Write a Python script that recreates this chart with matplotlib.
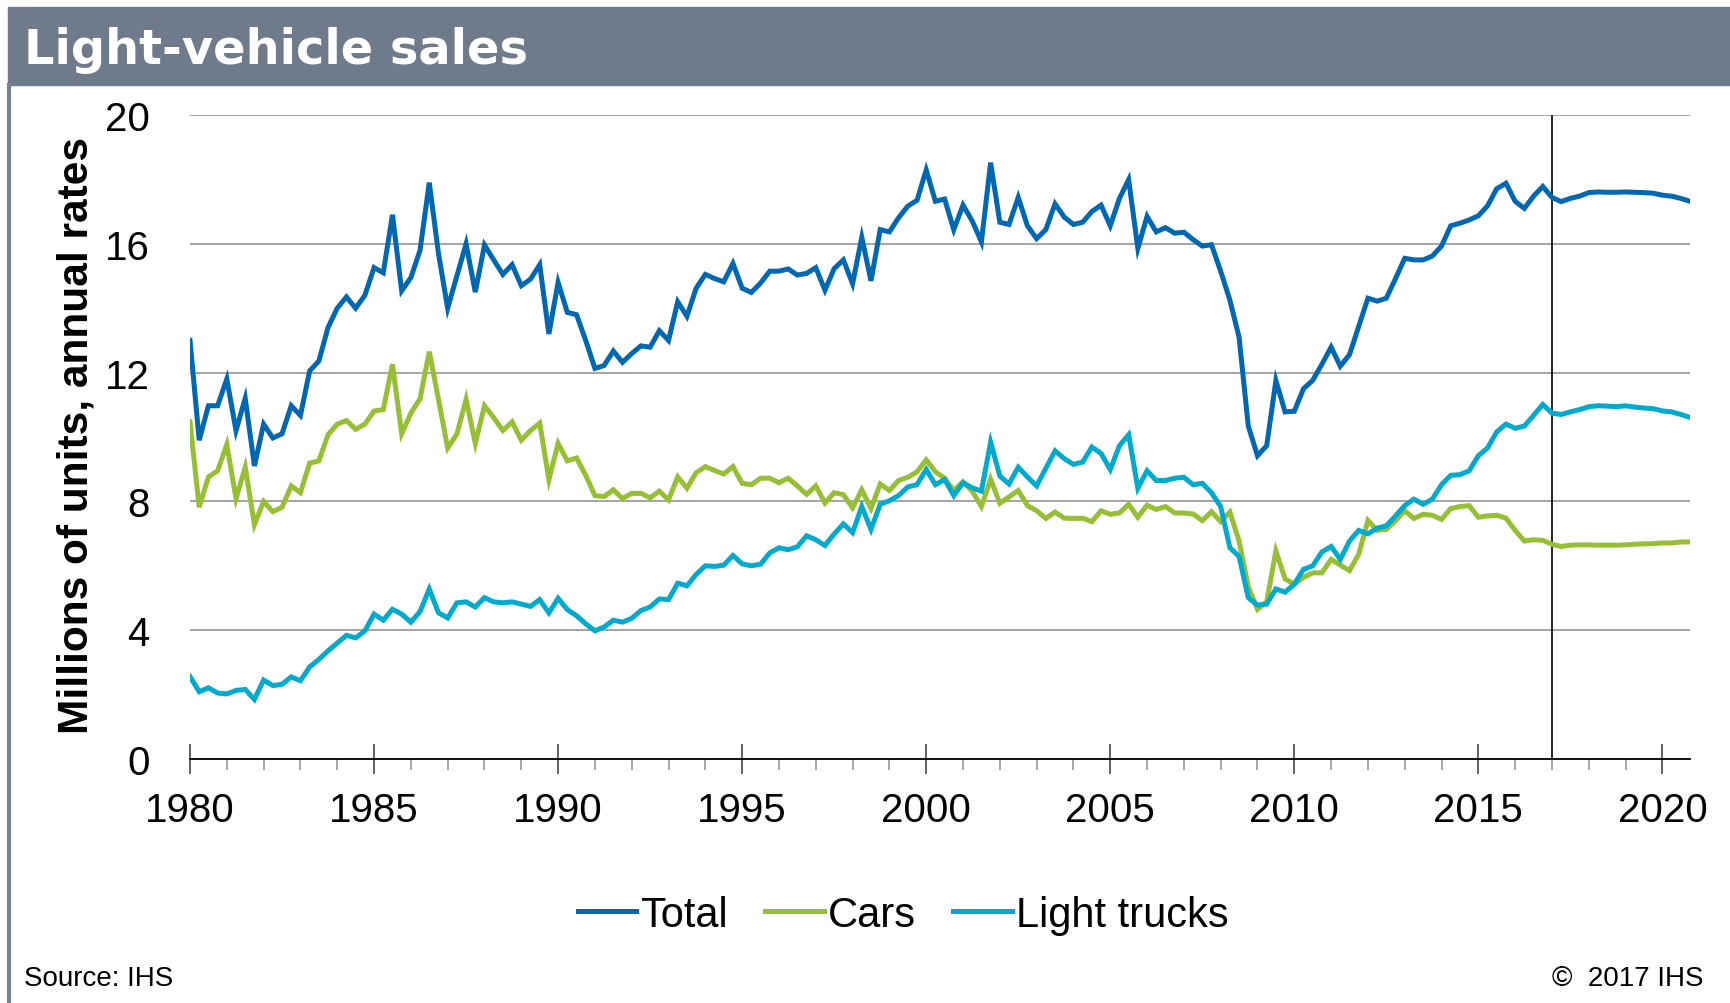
import numpy as np
import pandas as pd
from matplotlib import pyplot as plt
from matplotlib.patches import Rectangle
from matplotlib.lines import Line2D
from matplotlib.ticker import MultipleLocator

# quarterly, 1980Q1 .. 2020Q4 (millions of units, annual rates)
total = [
    13.0, 9.9, 10.97, 10.97, 11.8, 10.2, 11.2, 9.1, 10.4, 9.97, 10.1, 10.97,
    10.67, 12.05, 12.36, 13.4, 14.0, 14.35, 14.0, 14.4, 15.26, 15.1, 16.9, 14.54,
    14.95, 15.8, 17.9, 15.7, 14.0, 15.0, 16.0, 14.5, 15.96, 15.5, 15.05, 15.35,
    14.7, 14.9, 15.35, 13.2, 14.8, 13.87,
    13.8, 13.0, 12.13, 12.22, 12.67, 12.32, 12.59, 12.83, 12.79, 13.3, 13.0, 14.2,
    13.75, 14.62, 15.05, 14.92, 14.82, 15.39, 14.62, 14.49, 14.78, 15.15, 15.15, 15.22,
    15.03, 15.08, 15.26, 14.56, 15.23, 15.5, 14.76, 16.2, 14.85, 16.44, 16.37, 16.81,
    17.17, 17.35,
    18.29, 17.32, 17.39, 16.44, 17.2, 16.71, 16.06, 18.52, 16.67, 16.6, 17.44, 16.56,
    16.16, 16.44, 17.24, 16.83, 16.6, 16.67, 17.0, 17.2, 16.56, 17.41, 17.99, 15.86,
    16.85, 16.37, 16.5, 16.33, 16.36, 16.13, 15.93, 15.97, 15.15, 14.25, 13.1, 10.34,
    9.42, 9.73, 11.75, 10.78,
    10.8, 11.5, 11.76, 12.26, 12.79, 12.2, 12.56, 13.44, 14.31, 14.22, 14.31, 14.92,
    15.55, 15.5, 15.5, 15.62, 15.93, 16.56, 16.64, 16.74, 16.87, 17.18, 17.71, 17.88,
    17.32, 17.1, 17.48, 17.78, 17.44, 17.31, 17.41, 17.48, 17.59, 17.61, 17.6, 17.6,
    17.61, 17.6, 17.59, 17.57, 17.51, 17.48, 17.41, 17.32,
]
cars = [
    10.47, 7.82, 8.76, 8.95, 9.77, 8.09, 9.06, 7.28, 8.0, 7.68, 7.82, 8.48,
    8.27, 9.19, 9.26, 10.07, 10.4, 10.51, 10.24, 10.4, 10.81, 10.85, 12.26, 10.1,
    10.74, 11.19, 12.65, 11.17, 9.66, 10.09, 11.17, 9.8, 10.97, 10.6, 10.2, 10.47,
    9.9, 10.2, 10.43, 8.68, 9.8, 9.26,
    9.35, 8.81, 8.18, 8.15, 8.36, 8.09, 8.25, 8.25, 8.11, 8.32, 8.05, 8.76,
    8.41, 8.89, 9.08, 8.96, 8.85, 9.08, 8.56, 8.52, 8.72, 8.72, 8.58, 8.72,
    8.48, 8.22, 8.48, 7.95, 8.27, 8.21, 7.8, 8.36, 7.78, 8.54, 8.34, 8.65,
    8.75, 8.92,
    9.29, 8.92, 8.72, 8.34, 8.61, 8.32, 7.84, 8.69, 7.94, 8.14, 8.34, 7.87,
    7.71, 7.47, 7.67, 7.48, 7.47, 7.48, 7.37, 7.71, 7.6, 7.64, 7.91, 7.51,
    7.88, 7.75, 7.84, 7.64, 7.64, 7.61, 7.4, 7.68, 7.37, 7.67, 6.77, 5.35,
    4.65, 4.88, 6.46, 5.59,
    5.43, 5.64, 5.78, 5.78, 6.2, 6.02, 5.85, 6.36, 7.41, 7.1, 7.13, 7.4,
    7.71, 7.47, 7.6, 7.57, 7.44, 7.78, 7.84, 7.87, 7.51, 7.55, 7.57, 7.48,
    7.1, 6.77, 6.81, 6.79, 6.67, 6.6, 6.64, 6.65, 6.65, 6.64, 6.64, 6.64,
    6.65, 6.67, 6.68, 6.69, 6.71, 6.71, 6.74, 6.74,
]
trucks = [
    2.56, 2.09, 2.21, 2.05, 2.02, 2.13, 2.16, 1.85, 2.45, 2.28, 2.32, 2.55,
    2.43, 2.86, 3.09, 3.36, 3.6, 3.84, 3.76, 3.98, 4.5, 4.31, 4.65, 4.5,
    4.25, 4.58, 5.28, 4.54, 4.38, 4.85, 4.88, 4.72, 5.01, 4.88, 4.85, 4.88,
    4.81, 4.74, 4.95, 4.54, 4.99, 4.64,
    4.45, 4.2, 3.98, 4.1, 4.31, 4.25, 4.37, 4.61, 4.72, 4.97, 4.95, 5.46,
    5.38, 5.73, 6.0, 5.98, 6.02, 6.32, 6.06, 6.0, 6.05, 6.4, 6.56, 6.5,
    6.59, 6.93, 6.81, 6.63, 6.99, 7.3, 7.03, 7.84, 7.13, 7.91, 8.02, 8.18,
    8.45, 8.52,
    8.99, 8.52, 8.68, 8.18, 8.58, 8.42, 8.32, 9.84, 8.79, 8.54, 9.06, 8.76,
    8.48, 9.03, 9.57, 9.33, 9.15, 9.22, 9.69, 9.49, 8.99, 9.73, 10.07, 8.41,
    8.95, 8.65, 8.65, 8.72, 8.75, 8.52, 8.56, 8.27, 7.84, 6.56, 6.29, 5.01,
    4.78, 4.81, 5.28, 5.18,
    5.43, 5.89, 6.0, 6.43, 6.6, 6.2, 6.77, 7.1, 6.99, 7.17, 7.24, 7.55,
    7.87, 8.07, 7.91, 8.07, 8.52, 8.81, 8.83, 8.95, 9.42, 9.66, 10.16, 10.4,
    10.27, 10.34, 10.67, 11.01, 10.74, 10.7, 10.78, 10.85, 10.94, 10.97, 10.96, 10.94,
    10.97, 10.93, 10.9, 10.88, 10.81, 10.78, 10.7, 10.61,
]
series_names = ['Total', 'Cars', 'Light trucks']
series_colors = ['#0067b1', '#97bf36', '#00aacc']
forecast_start = 2017

quarters = pd.period_range('1980Q1', '2020Q4', freq='Q')
x = quarters.year + (quarters.quarter - 1) / 4

plt.rcParams['font.family'] = ['Liberation Sans', 'DejaVu Sans']

fig = plt.figure(figsize=(17.3, 10.04), dpi=100)
W, H = 1730, 1004

# header band and left border
fig.patches.append(Rectangle((8 / W, 1 - 86 / H), 1 - 8 / W, 78 / H,
                             transform=fig.transFigure, color='#6f7b8a', zorder=0))
fig.lines.append(Line2D([9 / W, 9 / W], [0, 1 - 86 / H], transform=fig.transFigure,
                        color='#7a8594', lw=3))
fig.text(24 / W, 1 - 50 / H, 'Light-vehicle sales', color='white', fontsize=34.5,
         fontweight='bold', family='DejaVu Sans', va='center', ha='left')

ax = fig.add_axes([190 / W, 1 - 760 / H, 1500 / W, 644 / H])
for vals, name, col in zip([total, cars, trucks], series_names, series_colors):
    ax.plot(x, vals, color=col, lw=3.6, label=name, solid_joinstyle='miter', zorder=3)

ax.axvline(forecast_start, color='black', lw=1.2, zorder=2)

ax.set_xlim(1980, 2020.75)
ax.set_ylim(0, 20)
ax.set_yticks([0, 4, 8, 12, 16, 20])
ax.xaxis.set_major_locator(MultipleLocator(5))
ax.xaxis.set_minor_locator(MultipleLocator(1))
ax.grid(axis='y', color='#8c8c8c', lw=1.1, zorder=1)
for s in ['left', 'right', 'top']:
    ax.spines[s].set_visible(False)
ax.spines['bottom'].set_color('black')
ax.spines['bottom'].set_linewidth(1.3)
ax.spines['bottom'].set_zorder(4)
ax.tick_params(axis='y', length=0, pad=29, labelsize=29)
ax.tick_params(axis='x', which='major', direction='inout', length=22, width=1.3,
               color='#555555', pad=12, labelsize=29)
ax.tick_params(axis='x', which='minor', direction='out', length=8, width=1.2,
               color='#999999')

fig.text(77 / W, 1 - 436 / H, 'Millions of units, annual rates', rotation=90,
         fontsize=30.5, fontweight='bold', ha='center', va='center')

fig.legend(loc='center', bbox_to_anchor=(903 / W, 1 - 916 / H), ncol=3, frameon=False,
           fontsize=30, handlelength=1.4, handletextpad=0.1, columnspacing=0.9)

fig.text(24 / W, 1 - 979 / H, 'Source: IHS', fontsize=20, ha='left', va='center')
fig.text(1703 / W, 1 - 979 / H, '\u00a9  2017 IHS', fontsize=20, ha='right', va='center')

fig.savefig('out.png', dpi=100)
